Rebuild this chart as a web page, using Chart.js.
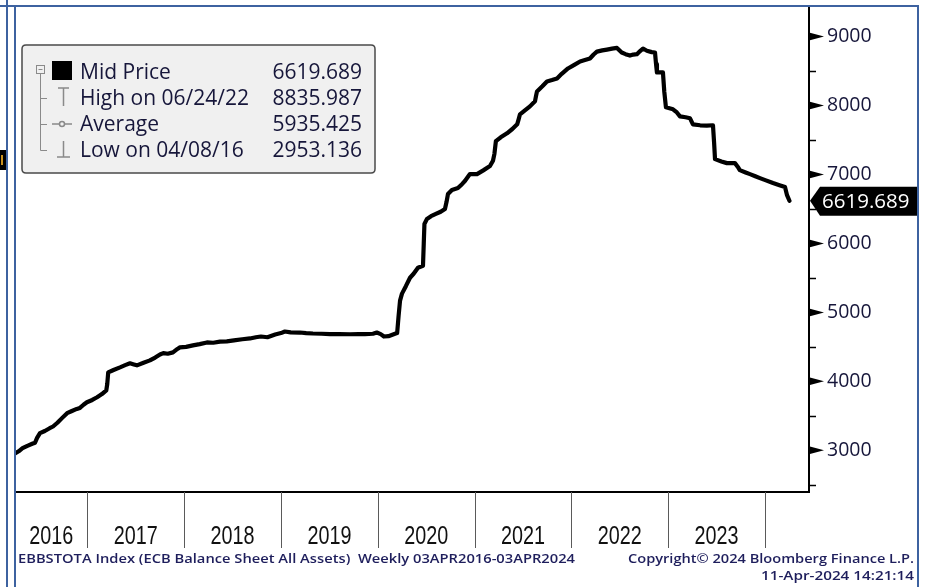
<!DOCTYPE html>
<html><head><meta charset="utf-8">
<script src="https://cdn.jsdelivr.net/npm/chart.js@4.4.1/dist/chart.umd.min.js"></script>
<style>html,body{margin:0;padding:0;background:#fff;}#wrap{position:relative;width:926px;height:587px;}</style>
</head><body><div id="wrap"><canvas id="c" width="926" height="587"></canvas></div>
<script>
// ---- data (decimal year, value) ----
const weeks = [
2016.252,2016.290,2016.330,2016.380,2016.430,2016.459,2016.480,2016.510,2016.560,2016.610,
2016.645,2016.690,2016.740,2016.790,2016.840,2016.890,2016.923,2016.960,2016.995,2017.050,
2017.100,2017.150,2017.195,2017.205,2017.215,2017.270,2017.337,2017.390,2017.440,2017.480,
2017.512,2017.580,2017.646,2017.700,2017.750,2017.784,2017.830,2017.884,2017.930,2017.956,
2018.020,2018.090,2018.160,2018.235,2018.300,2018.370,2018.440,2018.514,2018.600,2018.680,
2018.740,2018.793,2018.860,2018.940,2019.000,2019.040,2019.100,2019.196,2019.260,2019.330,
2019.420,2019.506,2019.600,2019.713,2019.800,2019.868,2019.950,2019.990,2020.030,2020.064,
2020.110,2020.178,2020.200,2020.215,2020.230,2020.250,2020.290,2020.333,2020.370,2020.415,
2020.467,2020.475,2020.482,2020.508,2020.550,2020.600,2020.650,2020.694,2020.710,2020.725,
2020.766,2020.828,2020.870,2020.900,2020.952,2021.025,2021.090,2021.159,2021.190,2021.205,
2021.220,2021.270,2021.335,2021.390,2021.440,2021.455,2021.469,2021.520,2021.572,2021.624,
2021.635,2021.645,2021.700,2021.748,2021.800,2021.852,2021.900,2021.965,2022.030,2022.090,
2022.140,2022.192,2022.230,2022.264,2022.320,2022.368,2022.420,2022.471,2022.520,2022.560,
2022.605,2022.640,2022.677,2022.710,2022.740,2022.780,2022.830,2022.864,2022.875,2022.884,
2022.946,2022.960,2022.977,2023.050,2023.090,2023.122,2023.180,2023.226,2023.256,2023.330,
2023.400,2023.463,2023.475,2023.484,2023.550,2023.607,2023.690,2023.720,2023.740,2023.800,
2023.845,2023.900,2023.948,2024.010,2024.083,2024.150,2024.207,2024.228,2024.253
];
const midPrice = [
2953,2985,3030,3065,3095,3110,3180,3249,3280,3320,
3345,3400,3470,3538,3570,3600,3615,3660,3697,3730,
3769,3815,3870,3960,4130,4165,4203,4235,4262,4245,
4232,4270,4304,4345,4390,4410,4400,4420,4470,4492,
4500,4521,4540,4564,4560,4575,4580,4593,4610,4622,
4640,4650,4640,4679,4700,4723,4710,4708,4700,4694,
4690,4685,4686,4683,4684,4686,4690,4708,4685,4650,
4655,4690,4700,4950,5171,5272,5380,5503,5560,5648,
5676,6000,6283,6356,6395,6428,6460,6500,6600,6717,
6775,6804,6860,6905,7006,7006,7060,7122,7200,7300,
7483,7540,7598,7660,7728,7800,7873,7930,7988,8061,
8140,8205,8280,8350,8370,8393,8460,8538,8590,8639,
8660,8682,8740,8783,8800,8812,8825,8835.987,8769,8745,
8725,8740,8745,8790,8827,8795,8775,8769,8600,8480,
8480,8200,7974,7945,7900,7844,7830,7815,7728,7714,
7710,7714,7450,7223,7190,7165,7165,7110,7064,7030,
7006,6975,6948,6915,6876,6845,6818,6700,6619.689
];
const yearLabels = ['2016','2017','2018','2019','2020','2021','2022','2023'];
const yearStarts = [2017,2018,2019,2020,2021,2022,2023,2024];
const yTicks = [3000,4000,5000,6000,7000,8000,9000];
const yMinorTicks = [2500,3500,4500,5500,6500,7500,8500];
const legendLabels = ['Mid Price','High on 06/24/22','Average','Low on 04/08/16'];
const legendValues = ['6619.689','8835.987','5935.425','2953.136'];
const lastValue = 6619.689;
const footerLeft = 'EBBSTOTA Index (ECB Balance Sheet All Assets)  Weekly 03APR2016-03APR2024';
const footerRight1 = 'Copyright\u00A9 2024 Bloomberg Finance L.P.';
const footerRight2 = '11-Apr-2024 14:21:14';

const points = weeks.map((w,i)=>({x:w, y:midPrice[i]}));
const TXT = '#16163a';
const BLUE = '#3d62a0';
const UI = '"Open Sans","Noto Sans",sans-serif';

function line(ctx,x1,y1,x2,y2){ctx.beginPath();ctx.moveTo(x1,y1);ctx.lineTo(x2,y2);ctx.stroke();}
function fitText(ctx,text,x,y,w,align){
  const m = ctx.measureText(text).width;
  const s = w / m;
  ctx.save();
  const left = align==='right' ? x - w : (align==='center' ? x - w/2 : x);
  ctx.translate(left, y);
  ctx.scale(s,1);
  ctx.textAlign='left';
  ctx.fillText(text,0,0);
  ctx.restore();
}

const overlay = {
  id:'overlay',
  afterDraw(chart){
    const ctx=chart.ctx, ca=chart.chartArea, xs=chart.scales.x, ys=chart.scales.y;
    ctx.save();
    // bottom axis line
    ctx.strokeStyle='#000'; ctx.lineWidth=2;
    line(ctx, ca.left, ca.bottom, ca.right+1, ca.bottom);
    // year dividers
    ctx.strokeStyle='#5a5a5a'; ctx.lineWidth=1;
    yearStarts.forEach(y=>{const px=Math.round(xs.getPixelForValue(y))+0.5; line(ctx,px,ca.bottom,px,548);});
    // year labels
    ctx.fillStyle='#111'; ctx.font='26px "Liberation Sans",sans-serif';
    ctx.textBaseline='middle';
    yearLabels.forEach(l=>{
      const y0=+l; const a=Math.max(xs.getPixelForValue(y0),ca.left); const b=xs.getPixelForValue(y0+1);
      fitText(ctx,l,(a+b)/2,537,44,'center');
    });
    // y axis marks
    ctx.fillStyle='#000'; ctx.strokeStyle='#000'; ctx.lineWidth=1.5;
    yMinorTicks.forEach(v=>{const py=Math.round(ys.getPixelForValue(v))+0.5; line(ctx,ca.right,py,ca.right+7,py);});
    yTicks.forEach(v=>{const py=ys.getPixelForValue(v);
      ctx.beginPath(); ctx.moveTo(ca.right,py-4); ctx.lineTo(ca.right+15,py); ctx.lineTo(ca.right,py+4); ctx.closePath(); ctx.fill();});
    // last price tag
    const ty=ys.getPixelForValue(lastValue);
    ctx.fillStyle='#000';
    ctx.beginPath(); ctx.moveTo(ca.right+1,ty); ctx.lineTo(ca.right+11,ty-14); ctx.lineTo(918,ty-14);
    ctx.lineTo(918,ty+15); ctx.lineTo(ca.right+11,ty+15); ctx.closePath(); ctx.fill();
    ctx.fillStyle='#fff'; ctx.font='20.5px '+UI; ctx.textAlign='left'; ctx.textBaseline='middle';
    ctx.fillText(String(lastValue),822,ty+1);
    // legend box
    const bx=22,by=45,bw=353,bh=128,r=4;
    ctx.beginPath(); ctx.moveTo(bx+r,by); ctx.lineTo(bx+bw-r,by); ctx.quadraticCurveTo(bx+bw,by,bx+bw,by+r);
    ctx.lineTo(bx+bw,by+bh-r); ctx.quadraticCurveTo(bx+bw,by+bh,bx+bw-r,by+bh); ctx.lineTo(bx+r,by+bh);
    ctx.quadraticCurveTo(bx,by+bh,bx,by+bh-r); ctx.lineTo(bx,by+r); ctx.quadraticCurveTo(bx,by,bx+r,by); ctx.closePath();
    ctx.fillStyle='#f0f0f0'; ctx.fill(); ctx.strokeStyle='#4a4a4a'; ctx.lineWidth=1.5; ctx.stroke();
    const rows=[72,98,124,150];
    // tree
    ctx.strokeStyle='#8a8a8a'; ctx.lineWidth=1;
    ctx.strokeRect(36.5,65.5,8,8); line(ctx,38.5,69.5,42.5,69.5);
    line(ctx,40.5,74,40.5,150.5);
    [98,124,150].forEach(y=>line(ctx,40.5,y+0.5,47,y+0.5));
    // icons
    ctx.fillStyle='#000'; ctx.fillRect(52,61,20,19);
    ctx.strokeStyle='#8a8a8a'; ctx.lineWidth=1.5;
    line(ctx,58,88,69,88); line(ctx,63.5,88,63.5,106);
    line(ctx,52,124,72,124); ctx.beginPath(); ctx.arc(62,124,2.5,0,Math.PI*2); ctx.fillStyle='#f0f0f0'; ctx.fill(); ctx.stroke();
    line(ctx,63.5,141,63.5,157); line(ctx,57,157,70,157);
    // legend texts
    ctx.fillStyle=TXT; ctx.font='21px '+UI; ctx.textBaseline='middle';
    legendLabels.forEach((t,i)=>{ctx.textAlign='left'; ctx.fillText(t,80,rows[i]+1);
      ctx.textAlign='right'; ctx.fillText(legendValues[i],362,rows[i]+1);});
    // frames
    ctx.strokeStyle=BLUE; ctx.lineWidth=2;
    line(ctx,0,6,919,6); line(ctx,7,0,7,587); line(ctx,15,6,15,587); line(ctx,918,6,918,587);
    // left panel remnant
    ctx.fillStyle='#000'; ctx.fillRect(0,150,6,20); ctx.fillStyle='#c8901e'; ctx.fillRect(1,155,2,10);
    // footer
    ctx.fillStyle='#1e1e5c'; ctx.font='600 12px '+UI; ctx.textBaseline='middle';
    fitText(ctx,footerLeft,18,560,557,'left');
    fitText(ctx,footerRight1,914,560,286,'right');
    fitText(ctx,footerRight2,914,577,153,'right');
    ctx.restore();
  }
};

new Chart(document.getElementById('c'),{
  type:'line',
  data:{datasets:[{label:'Mid Price',data:points,borderColor:'#000',borderWidth:4.2,pointRadius:0,
    tension:0,borderJoinStyle:'round',borderCapStyle:'round',fill:false}]},
  options:{
    responsive:false, animation:false, devicePixelRatio:1,
    layout:{padding:{left:15,top:8,bottom:95,right:17}},
    plugins:{legend:{display:false},tooltip:{enabled:false}},
    scales:{
      x:{type:'linear',min:2016.252,max:2024.455,display:false},
      y:{position:'right',min:2395,max:9415,
        afterFit:(s)=>{s.width=100; s.paddingTop=0; s.paddingBottom=0;},
        afterBuildTicks:(s)=>{s.ticks=yTicks.map(v=>({value:v}));},
        grid:{display:false,drawTicks:false},
        border:{display:true,color:'#000',width:2},
        ticks:{padding:18,color:TXT,font:{family:'Open Sans',size:19.5},callback:(v)=>String(v)}
      }
    }
  },
  plugins:[overlay]
});
</script></body></html>
